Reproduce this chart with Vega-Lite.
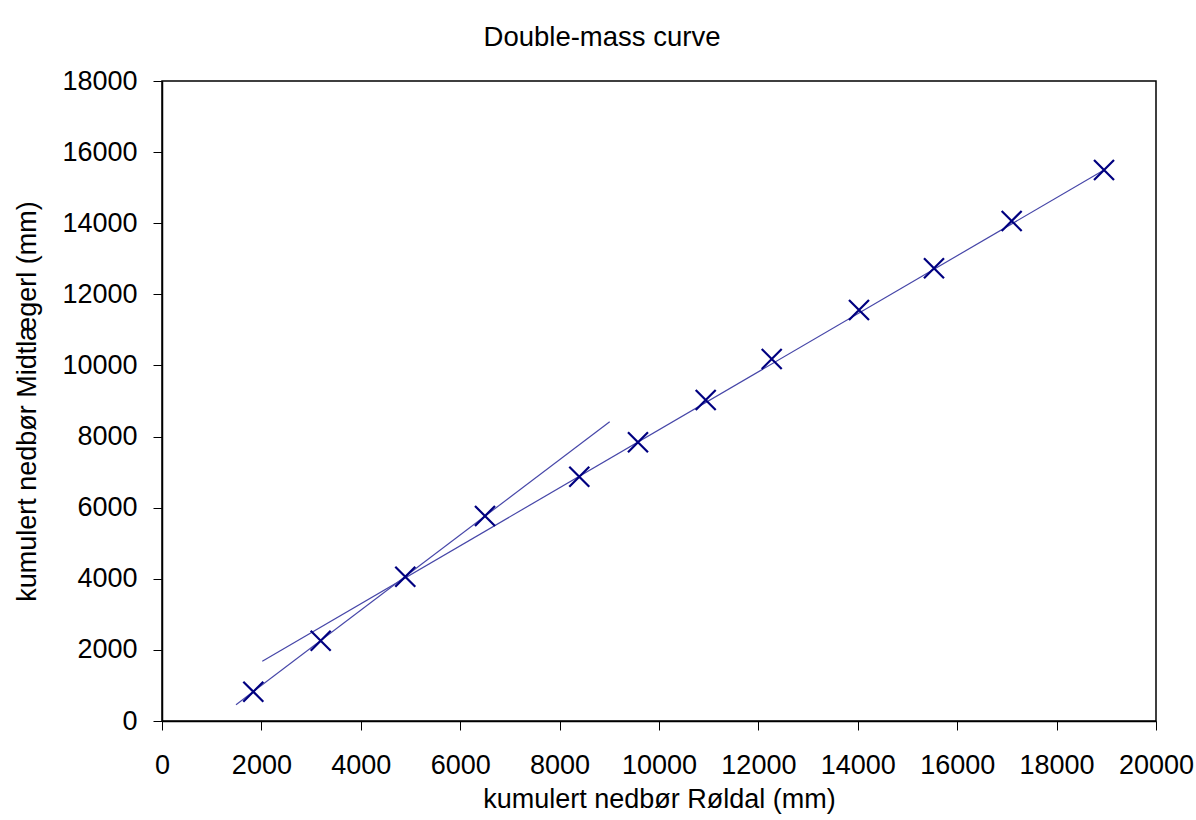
{
  "$schema": "https://vega.github.io/schema/vega-lite/v6.json",
  "width": 994,
  "height": 640,
  "autosize": "none",
  "padding": {"left": 162, "top": 81, "right": 40, "bottom": 99},
  "background": "white",
  "title": {
    "text": "Double-mass curve",
    "font": "Liberation Sans",
    "fontSize": 27.5,
    "fontWeight": "normal",
    "color": "black",
    "anchor": "middle",
    "dx": -57,
    "offset": -6,
    "baseline": "alphabetic"
  },
  "config": {
    "view": {"stroke": "black", "strokeWidth": 1.5},
    "font": "Liberation Sans",
    "axis": {
      "grid": false,
      "domainColor": "black",
      "domainWidth": 1.5,
      "tickColor": "black",
      "tickWidth": 1,
      "tickSize": 9,
      "labelFont": "Liberation Sans",
      "labelFontSize": 27,
      "labelColor": "black",
      "titleFont": "Liberation Sans",
      "titleFontSize": 27,
      "titleFontWeight": "normal",
      "titleColor": "black"
    }
  },
  "datasets": {
    "points": [
      {"roldal": 1837, "midt": 824},
      {"roldal": 3193, "midt": 2258},
      {"roldal": 4895, "midt": 4058},
      {"roldal": 6499, "midt": 5766},
      {"roldal": 8396, "midt": 6871},
      {"roldal": 9577, "midt": 7838},
      {"roldal": 10940, "midt": 9028},
      {"roldal": 12268, "midt": 10181},
      {"roldal": 14024, "midt": 11559},
      {"roldal": 15533, "midt": 12732},
      {"roldal": 17096, "midt": 14063},
      {"roldal": 18954, "midt": 15497}
    ],
    "trends": [
      {"trend": "A", "roldal": 1489, "midt": 458},
      {"trend": "A", "roldal": 9008, "midt": 8418},
      {"trend": "B", "roldal": 2018, "midt": 1679},
      {"trend": "B", "roldal": 18954, "midt": 15497}
    ]
  },
  "layer": [
    {
      "data": {"name": "trends"},
      "mark": {"type": "line", "color": "#4646a8", "strokeWidth": 1.2},
      "encoding": {
        "x": {"field": "roldal", "type": "quantitative"},
        "y": {"field": "midt", "type": "quantitative"},
        "detail": {"field": "trend", "type": "nominal"}
      }
    },
    {
      "data": {"name": "points"},
      "mark": {
        "type": "point",
        "shape": "M-1,-1L1,1M-1,1L1,-1",
        "filled": false,
        "size": 400,
        "stroke": "#000080",
        "strokeWidth": 2.2,
        "opacity": 1
      },
      "encoding": {
        "x": {
          "field": "roldal",
          "type": "quantitative",
          "scale": {"domain": [0, 20000], "nice": false},
          "axis": {
            "values": [0, 2000, 4000, 6000, 8000, 10000, 12000, 14000, 16000, 18000, 20000],
            "format": "d",
            "labelPadding": 22,
            "labelFlush": false,
            "labelOverlap": false,
            "title": "kumulert nedbør Røldal (mm)",
            "titlePadding": 8
          }
        },
        "y": {
          "field": "midt",
          "type": "quantitative",
          "scale": {"domain": [0, 18000], "nice": false},
          "axis": {
            "values": [0, 2000, 4000, 6000, 8000, 10000, 12000, 14000, 16000, 18000],
            "format": "d",
            "labelPadding": 16,
            "labelFlush": false,
            "labelOverlap": false,
            "title": "kumulert nedbør Midtlægerl (mm)",
            "titlePadding": 20
          }
        }
      }
    }
  ]
}
